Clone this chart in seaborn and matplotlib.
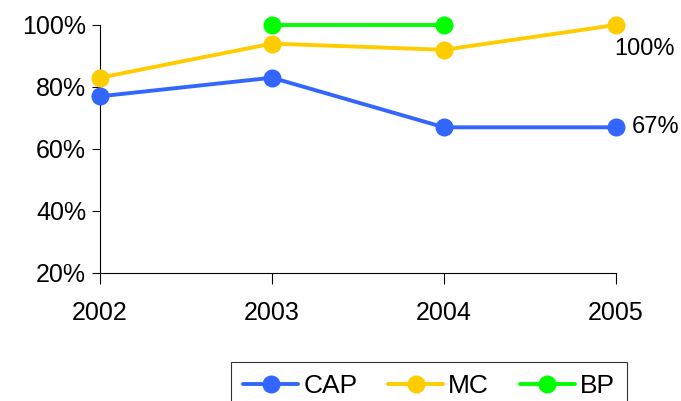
import numpy as np
import pandas as pd
import seaborn as sns
import matplotlib.pyplot as plt
from matplotlib.ticker import FuncFormatter

#data
years = [2002, 2003, 2004, 2005]
cap = [77, 83, 67, 67]
mc = [83, 94, 92, 100]
bp = [np.nan, 100, 100, np.nan]
series_names = ['CAP', 'MC', 'BP']
series_colors = ['#3366FF', '#FFCC00', '#00FF00']

df = pd.DataFrame({'Year': years, 'CAP': cap, 'MC': mc, 'BP': bp})
long_df = df.melt(id_vars='Year', var_name='Series', value_name='Value').dropna()

sns.set_style('white')
plt.rcParams['font.family'] = ['Liberation Sans', 'DejaVu Sans']
plt.rcParams['text.color'] = 'black'
plt.rcParams['xtick.color'] = 'black'
plt.rcParams['ytick.color'] = 'black'

fig = plt.figure(figsize=(6.81, 4.01), dpi=100)
ax = fig.add_axes([100 / 681, 1 - 273 / 401, 516 / 681, 248 / 401])

sns.lineplot(data=long_df, x='Year', y='Value', hue='Series', hue_order=series_names,
             palette=series_colors, marker='o', markersize=13, markeredgewidth=0,
             linewidth=2.8, ax=ax)

ax.set_xlim(2002, 2005)
ax.set_ylim(20, 100)
ax.set_xticks(years)
ax.set_yticks([20, 40, 60, 80, 100])
ax.yaxis.set_major_formatter(FuncFormatter(lambda v, p: '%d%%' % v))
ax.set_xlabel('')
ax.set_ylabel('')
for s in ['top', 'right']:
    ax.spines[s].set_visible(False)
for s in ['left', 'bottom']:
    ax.spines[s].set_color('black')
    ax.spines[s].set_linewidth(0.8)
    ax.spines[s].set_zorder(0)
ax.tick_params(axis='y', direction='out', length=6, width=0.8, colors='black',
               labelsize=18, pad=4, left=True)
ax.tick_params(axis='x', direction='out', length=8, width=0.8, colors='black',
               labelsize=18, pad=12, bottom=True)
for t in ax.get_lines():
    t.set_clip_on(False)

#end labels
ax.annotate('100%', (years[-1], mc[-1]), xytext=(-1, -17), textcoords='offset points',
            ha='left', va='center', fontsize=17, color='black')
ax.annotate('67%', (years[-1], cap[-1]), xytext=(11, 0), textcoords='offset points',
            ha='left', va='center', fontsize=17, color='black')

handles, labels = ax.get_legend_handles_labels()
ax.legend_.remove()
leg = fig.legend(handles, labels, loc='upper center', bbox_to_anchor=(429 / 681, 1 - 362 / 401),
                 ncol=3, fontsize=19, frameon=True, fancybox=False, handlelength=2.1,
                 columnspacing=1.15, handletextpad=0.19, borderpad=0.45, borderaxespad=0)
leg.get_frame().set_edgecolor('black')
leg.get_frame().set_linewidth(0.8)
for txt in leg.get_texts():
    txt.set_color('black')

plt.savefig('out.png', dpi=100)
